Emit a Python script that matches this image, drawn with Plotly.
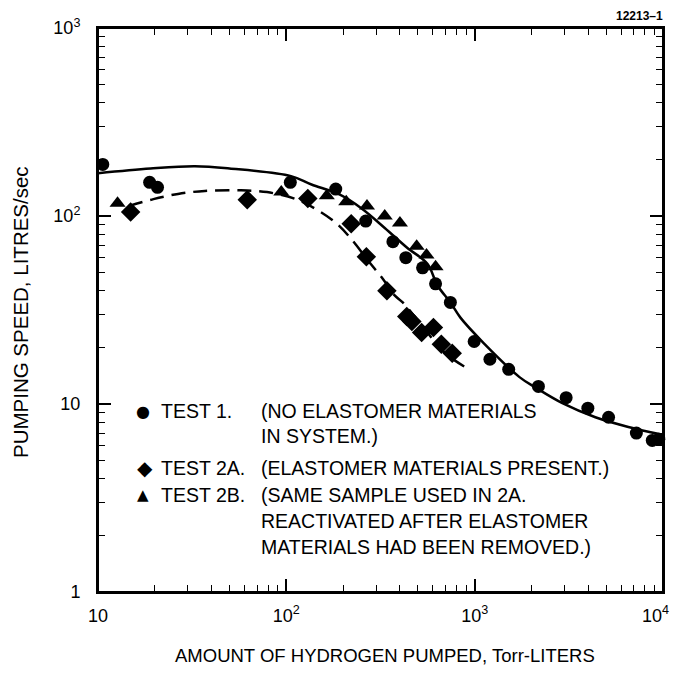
import plotly.graph_objects as go

# ---- data ----
test1_x = [10.6, 18.8, 20.7, 105, 183, 264, 368, 431, 529, 620, 743, 994, 1205, 1516, 2180, 3060, 3990, 5140, 7220, 8770, 9500]
test1_y = [188, 151, 142, 151, 139, 94, 73, 60, 53, 43.6, 34.7, 21.5, 17.3, 15.3, 12.4, 10.8, 9.5, 8.5, 7.0, 6.4, 6.5]

test2a_x = [14.9, 62, 130, 221, 266, 342, 436, 464, 523, 604, 665, 760]
test2a_y = [105, 122, 124, 91, 60.7, 40, 29.2, 27.5, 24, 25.5, 20.8, 18.6]

test2b_x = [12.7, 94, 164, 208, 268, 333, 401, 492, 555, 620]
test2b_y = [117, 134, 128, 119, 113, 100, 91.8, 69, 62, 53.7]

fit1_x = [10, 19.0, 32.7, 49.9, 105.9, 136, 189, 250, 333, 438, 561, 635, 743, 840, 1116, 1730, 2112, 2922, 4374, 6547, 10000]
fit1_y = [169, 179, 184, 179, 163, 147, 131, 110, 86.4, 67.8, 55.7, 42.7, 34.7, 28.8, 21.1, 13.9, 12.2, 10.1, 8.5, 7.55, 6.85]

fit2_x = [14.6, 19.7, 26.6, 36.9, 56.6, 79, 112, 143, 183, 221, 272, 325, 376, 415, 535, 690, 912]
fit2_y = [113, 123, 131, 136, 137, 134, 123, 109, 92, 75.5, 57.8, 46.4, 37.8, 34.7, 25.5, 18.8, 15.5]

x_major = [10, 100, 1000, 10000]
x_labels = ["10", "10<sup>2</sup>", "10<sup>3</sup>", "10<sup>4</sup>\u00a0\u00a0\u00a0"]
y_major = [1, 10, 100, 1000]
y_labels = ["1", "10", "10<sup>2</sup>", "10<sup>3</sup>"]

FONT = "Liberation Sans, Arial, Helvetica, sans-serif"

# all tick positions on the log axes (major decades + digits 2..9)
x_all = sorted(x_major + [m * 10 ** e for e in range(1, 4) for m in range(2, 10)])
y_all = sorted(y_major + [m * 10 ** e for e in range(0, 3) for m in range(2, 10)])
x_all_text = [x_labels[x_major.index(v)] if v in x_major else "" for v in x_all]
y_all_text = [y_labels[y_major.index(v)] if v in y_major else "" for v in y_all]

fig = go.Figure()

fig.add_trace(go.Scatter(x=fit1_x, y=fit1_y, mode="lines",
                         line=dict(color="black", width=2.5, shape="spline", smoothing=1.0),
                         showlegend=False, hoverinfo="skip"))
fig.add_trace(go.Scatter(x=fit2_x, y=fit2_y, mode="lines",
                         line=dict(color="black", width=2.5, shape="spline", smoothing=1.0, dash="14px,8px"),
                         showlegend=False, hoverinfo="skip"))
fig.add_trace(go.Scatter(x=test1_x, y=test1_y, mode="markers",
                         marker=dict(symbol="circle", size=13, color="black"),
                         name="TEST 1.", showlegend=False, cliponaxis=False))
fig.add_trace(go.Scatter(x=test2a_x, y=test2a_y, mode="markers",
                         marker=dict(symbol="diamond", size=15, color="black"),
                         name="TEST 2A.", showlegend=False))
fig.add_trace(go.Scatter(x=test2b_x, y=test2b_y, mode="markers",
                         marker=dict(symbol="triangle-up", size=14, color="black"),
                         name="TEST 2B.", showlegend=False))
# invisible trace to carry the overlay axes (long decade ticks)
fig.add_trace(go.Scatter(x=[x_major[0]], y=[y_major[0]], xaxis="x2", yaxis="y2", mode="markers",
                         marker=dict(opacity=0), showlegend=False, hoverinfo="skip"))

tickfont = dict(family=FONT, size=18, color="black")

fig.update_layout(
    xaxis=dict(type="log", range=[1, 4], tickmode="array", tickvals=x_all, ticktext=x_all_text,
               showgrid=False, zeroline=False, showline=True, linecolor="black", linewidth=2,
               ticks="inside", ticklen=7, tickwidth=1.3, tickcolor="black", mirror="allticks",
               tickfont=tickfont, ticklabelstandoff=6, automargin=False, ticklabeloverflow="allow"),
    yaxis=dict(type="log", range=[0, 3], tickmode="array", tickvals=y_all, ticktext=y_all_text,
               showgrid=False, zeroline=False, showline=True, linecolor="black", linewidth=2,
               ticks="inside", ticklen=7, tickwidth=1.3, tickcolor="black", mirror="allticks",
               tickfont=tickfont, ticklabelstandoff=12, automargin=False, ticklabeloverflow="allow"),
    xaxis2=dict(type="log", range=[1, 4], overlaying="x", anchor="y", side="bottom",
                tickmode="array", tickvals=x_major, showticklabels=False,
                showgrid=False, zeroline=False, showline=False,
                ticks="inside", ticklen=13, tickwidth=1.5, tickcolor="black", mirror="allticks",
                automargin=False),
    yaxis2=dict(type="log", range=[0, 3], overlaying="y", anchor="x", side="left",
                tickmode="array", tickvals=y_major, showticklabels=False,
                showgrid=False, zeroline=False, showline=False,
                ticks="inside", ticklen=13, tickwidth=1.5, tickcolor="black", mirror="allticks",
                automargin=False),
)

# target page geometry (page pixels); the html body adds an 8px margin on every side
L, R, T, B = 98, 663, 28, 592
W, H = 681, 674
OFF = 8
FW, FH = W - 2 * OFF, H - 2 * OFF


def px(x):
    return (x - L) / (R - L)


def py(y):
    return (B - y) / (B - T)


anns = []
tf = dict(family=FONT, size=19.5, color="black")
rows = [
    ("●", 143, 411, 16, "TEST 1.", "(NO ELASTOMER MATERIALS"),
    ("", 0, 436, 0, "", "IN SYSTEM.)"),
    ("◆", 145, 468, 20, "TEST 2A.", "(ELASTOMER MATERIALS PRESENT.)"),
    ("▲", 143, 495, 15, "TEST 2B.", "(SAME SAMPLE USED IN 2A."),
    ("", 0, 521, 0, "", "REACTIVATED AFTER ELASTOMER"),
    ("", 0, 547, 0, "", "MATERIALS HAD BEEN REMOVED.)"),
]
for sym, sx, yy, ss, lab, desc in rows:
    if sym:
        anns.append(dict(x=px(sx), y=py(yy), xref="paper", yref="paper", text=sym, showarrow=False,
                         xanchor="center", yanchor="middle", font=dict(family="DejaVu Sans", size=ss, color="black")))
    if lab:
        anns.append(dict(x=px(159), y=py(yy), xref="paper", yref="paper", text=lab, showarrow=False,
                         xanchor="left", yanchor="middle", font=tf))
    anns.append(dict(x=px(259), y=py(yy), xref="paper", yref="paper", text=desc, showarrow=False,
                     xanchor="left", yanchor="middle", font=tf))

# axis titles
anns.append(dict(x=px(385), y=py(655), xref="paper", yref="paper",
                 text="AMOUNT OF HYDROGEN PUMPED, Torr-LITERS", showarrow=False,
                 xanchor="center", yanchor="middle", font=dict(family=FONT, size=18.5, color="black")))
anns.append(dict(x=px(20), y=py(312), xref="paper", yref="paper", textangle=-90,
                 text="PUMPING SPEED, LITRES/sec", showarrow=False,
                 xanchor="center", yanchor="middle", font=dict(family=FONT, size=20.5, color="black")))

anns.append(dict(x=px(665), y=py(16), xref="paper", yref="paper", text="<b>12213–1</b>", showarrow=False,
                 xanchor="right", yanchor="middle", font=dict(family=FONT, size=12, color="black")))

# plot frame
shapes = [dict(type="rect", xref="paper", yref="paper", x0=0, x1=1, y0=0, y1=1,
               line=dict(color="black", width=2), fillcolor="rgba(0,0,0,0)", layer="above")]

fig.update_layout(width=FW, height=FH,
                  margin=dict(l=L - OFF, r=FW - (R - OFF), t=T - OFF, b=FH - (B - OFF), autoexpand=False),
                  plot_bgcolor="white", paper_bgcolor="white", annotations=anns, shapes=shapes,
                  showlegend=False)

fig.write_html("out.html")
